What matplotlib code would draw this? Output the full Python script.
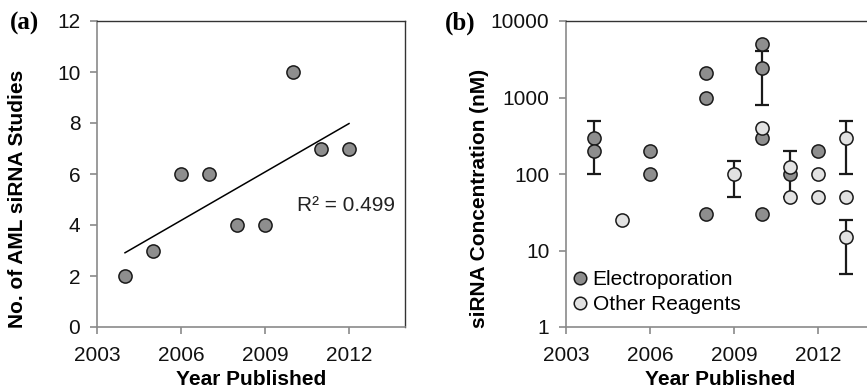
import matplotlib.pyplot as plt
import numpy as np

plt.rcParams['font.family'] = ['Liberation Sans', 'DejaVu Sans']

# panel (a): number of AML siRNA studies per year
years_a = [2004, 2005, 2006, 2007, 2008, 2009, 2010, 2011, 2012]
studies = [2, 3, 6, 6, 4, 4, 10, 7, 7]

# panel (b): siRNA concentrations (nM)
elec_x = [2004, 2004, 2006, 2006, 2008, 2008, 2008, 2010, 2010, 2010, 2010, 2011, 2012]
elec_y = [300, 200, 200, 100, 2100, 1000, 30, 5000, 2400, 300, 30, 100, 200]
other_x = [2005, 2009, 2010, 2011, 2011, 2012, 2012, 2013, 2013, 2013]
other_y = [25, 100, 400, 125, 50, 100, 50, 300, 50, 15]

# error bars (x, centre, low, high)
err_x = [2004, 2010, 2009, 2011, 2013, 2013]
err_c = [250, 2400, 100, 100, 300, 15]
err_lo = [100, 800, 50, 50, 100, 5]
err_hi = [500, 4000, 150, 200, 500, 25]

dark = '#8e8e8e'
light = '#e2e2e2'
edge = '#1a1a1a'
spine_gray = '#8a8a8a'
fs_tick = 15
fs_lab = 15

fig = plt.figure(figsize=(8.67, 3.9), dpi=100)
ax1 = fig.add_axes([97 / 867, 63 / 390, 308 / 867, 306 / 390])
ax2 = fig.add_axes([566 / 867, 63 / 390, 308 / 867, 306 / 390])


def style(ax):
    for s in ['left', 'bottom']:
        ax.spines[s].set_color(spine_gray)
        ax.spines[s].set_linewidth(1.2)
    for s in ['top', 'right']:
        ax.spines[s].set_color('#333333')
        ax.spines[s].set_linewidth(1.0)
    ax.tick_params(direction='out', length=5, width=1.2, color=spine_gray,
                   labelsize=fs_tick, labelcolor='#111111')
    ax.tick_params(axis='x', pad=9)
    ax.tick_params(axis='y', pad=7)
    ax.set_xlim(2003, 2014)
    ax.set_xticks([2003, 2006, 2009, 2012])
    ax.set_xlabel('Year Published', fontsize=fs_lab, fontweight='bold', labelpad=3)


# (a)
style(ax1)
fit = np.polyfit(years_a, studies, 1)
pred = np.polyval(fit, years_a)
r2 = 1 - np.sum((np.array(studies) - pred) ** 2) / np.sum((np.array(studies) - np.mean(studies)) ** 2)
ax1.plot([years_a[0], years_a[-1]], np.polyval(fit, [years_a[0], years_a[-1]]), color='black', lw=1.1)
ax1.plot(years_a, studies, 'o', ms=9.5, mfc=dark, mec=edge, mew=1.1, zorder=3)
ax1.text(2010.15, 4.75, 'R² = %.3f' % r2, fontsize=fs_tick, va='center', color='#222222')
ax1.set_ylim(0, 12)
ax1.set_yticks(range(0, 13, 2))
ax1.set_ylabel('No. of AML siRNA Studies', fontsize=fs_lab, fontweight='bold')
ax1.yaxis.set_label_coords(-70 / 308, 0.42)

# (b)
style(ax2)
ax2.set_yscale('log')
ax2.set_ylim(1, 10000)
ax2.set_yticks([1, 10, 100, 1000, 10000])
ax2.set_yticklabels(['1', '10', '100', '1000', '10000'])
ax2.minorticks_off()
ec = np.array(err_c)
ax2.errorbar(err_x, err_c, yerr=[ec - np.array(err_lo), np.array(err_hi) - ec], fmt='none',
             ecolor='#1a1a1a', elinewidth=1.6, capsize=5, capthick=1.6, zorder=2)
ax2.plot(elec_x, elec_y, 'o', ms=9.5, mfc=dark, mec=edge, mew=1.1, zorder=3, label='Electroporation')
ax2.plot(other_x, other_y, 'o', ms=9.5, mfc=light, mec=edge, mew=1.1, zorder=4, label='Other Reagents')
ax2.set_ylabel('siRNA Concentration (nM)', fontsize=fs_lab, fontweight='bold')
ax2.yaxis.set_label_coords(-77 / 308, 0.42)
leg = ax2.legend(loc='lower left', bbox_to_anchor=(-0.035, 0.0), frameon=False, fontsize=15,
                 handletextpad=0.0, borderaxespad=0.2, labelspacing=0.3, markerscale=0.95,
                 handlelength=1.2)

fig.text(10 / 867, 1 - 23 / 390, '(a)', fontsize=18, fontweight='bold', family='Liberation Serif', va='center')
fig.text(445 / 867, 1 - 23 / 390, '(b)', fontsize=18, fontweight='bold', family='Liberation Serif', va='center')

fig.savefig('out.png', dpi=100)
